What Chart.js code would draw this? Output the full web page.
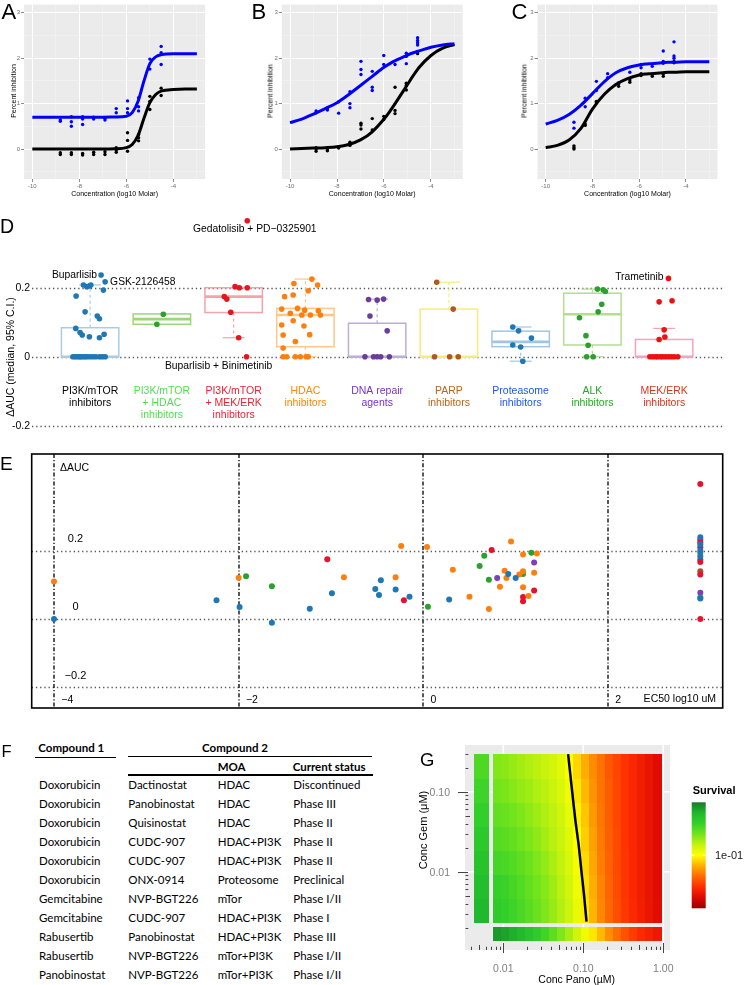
<!DOCTYPE html>
<html>
<head>
<meta charset="utf-8">
<title>Combination screen figure</title>
<script src="https://cdn.jsdelivr.net/npm/chart.js@4.4.1/dist/chart.umd.min.js"></script>
<style>
  body { margin: 0; background: #fff; }
  #page { position: relative; width: 750px; height: 985px; overflow: hidden; background: #fff;
          font-family: "Liberation Sans", Arial, sans-serif; color: #000; }
  #page canvas { position: absolute; }
  .txt { position: absolute; white-space: nowrap; line-height: 1; }
  .rot { transform: translate(-50%, -50%) rotate(-90deg); }
  .ctr { transform: translate(-50%, -50%); }
  .tbl { font-family: Lato, "Open Sans", sans-serif; line-height: 14px; }
  .b { font-weight: bold; }
  .rule { position: absolute; height: 1.3px; background: #000; }
</style>
</head>
<body>
<div id="page">
  <canvas id="cA" width="250" height="200" style="left:0;top:0"></canvas>
  <canvas id="cB" width="250" height="200" style="left:250px;top:0"></canvas>
  <canvas id="cC" width="250" height="200" style="left:500px;top:0"></canvas>
  <canvas id="cD" width="750" height="250" style="left:0;top:200px"></canvas>
  <canvas id="cE" width="750" height="262" style="left:0;top:450px"></canvas>
  <canvas id="cG" width="350" height="265" style="left:400px;top:720px"></canvas>
</div>
<script>
  // ---------- A / B / C : dose-response ----------
  var fitX = [-10, -9.5, -9, -8.5, -8, -7.5, -7, -6.5, -6, -5.75, -5.5, -5.25, -5, -4.75, -4.5, -4, -3.5, -3];
  var doseXTicks = [-10, -9, -8, -7, -6, -5, -4, -3];
  var doseYTicks = [-0.5, 0, 0.5, 1, 1.5, 2, 2.5, 3];

  var aBlueFit = [0.7, 0.7, 0.7, 0.7, 0.7, 0.7, 0.7, 0.705, 0.72, 0.8, 1.05, 1.5, 1.88, 2.03, 2.08, 2.1, 2.1, 2.1];
  var aBlackFit = [0, 0, 0, 0, 0, 0, 0, 0.005, 0.03, 0.1, 0.3, 0.68, 1.02, 1.2, 1.28, 1.31, 1.32, 1.32];
  var aBlueX = [-8.81, -8.81, -8.34, -8.34, -8.34, -7.86, -7.86, -7.86, -7.39, -7.39, -6.91, -6.91, -6.43, -6.43,
                -5.95, -5.95, -5.95, -5.48, -5.48, -5.48, -5.0, -5.0, -4.52, -4.52, -4.52];
  var aBlueY = [0.64, 0.61, 0.71, 0.6, 0.5, 0.71, 0.66, 0.54, 0.7, 0.66, 0.68, 0.64, 0.89, 0.8,
                1.06, 0.89, 0.8, 1.13, 0.93, 0.84, 1.98, 1.76, 2.26, 2.12, 1.86];
  var aBlackX = [-8.81, -8.81, -8.34, -8.34, -7.86, -7.86, -7.39, -7.39, -6.91, -6.91, -6.43, -6.43, -6.43,
                 -5.95, -5.95, -5.95, -5.48, -5.48, -5.48, -5.0, -5.0, -5.0, -4.52, -4.52];
  var aBlackY = [-0.08, -0.12, -0.08, -0.12, -0.1, -0.13, -0.07, -0.12, -0.06, -0.12, 0.03, -0.02, -0.07,
                 0.36, 0.19, -0.05, 0.32, 0.25, 0.18, 1.16, 1.05, 0.87, 1.34, 1.18];

  var bBlueFit = [0.58, 0.66, 0.77, 0.89, 1.02, 1.2, 1.4, 1.6, 1.8, 1.88, 1.95, 2.01, 2.07, 2.12, 2.16, 2.24, 2.29, 2.32];
  var bBlackFit = [0, 0.01, 0.02, 0.03, 0.05, 0.1, 0.2, 0.38, 0.66, 0.83, 1.02, 1.22, 1.42, 1.62, 1.8, 2.06, 2.22, 2.3];
  var bBlueX = [-8.89, -8.89, -8.41, -8.41, -7.93, -7.93, -7.45, -7.45, -7.45, -6.98, -6.98, -6.98, -6.5, -6.5, -6.5,
                -6.01, -6.01, -5.53, -5.05, -5.05, -5.05, -4.57, -4.57, -4.57, -4.57];
  var bBlueY = [0.84, 0.8, 0.88, 0.86, 1.04, 0.79, 1.26, 1.0, 0.91, 1.93, 1.75, 1.64, 1.71, 1.36, 1.29,
                2.06, 1.86, 1.86, 2.11, 2.04, 1.88, 2.45, 2.39, 2.34, 2.29];
  var bBlackX = [-8.89, -8.89, -8.89, -8.41, -8.41, -7.93, -7.93, -7.45, -7.45, -7.45, -6.98, -6.98, -6.98, -6.5, -6.5,
                 -6.01, -6.01, -5.53, -5.53, -5.53, -5.05, -5.05, -5.05, -4.57, -4.57];
  var bBlackY = [0.03, 0, -0.05, -0.02, -0.04, 0.05, 0.02, 0.15, 0.1, 0.08, 0.57, 0.53, 0.44, 0.67, 0.42,
                 0.72, 0.65, 1.36, 0.85, 0.78, 1.45, 1.4, 1.3, 2.15, 2.1];

  var cBlueFit = [0.55, 0.63, 0.76, 0.96, 1.22, 1.48, 1.68, 1.79, 1.85, 1.87, 1.88, 1.89, 1.9, 1.91, 1.91, 1.92, 1.92, 1.92];
  var cBlackFit = [0.03, 0.08, 0.2, 0.45, 0.88, 1.2, 1.42, 1.55, 1.63, 1.65, 1.66, 1.67, 1.68, 1.69, 1.69, 1.7, 1.7, 1.7];
  var cBlueX = [-8.79, -8.79, -8.31, -8.31, -7.83, -7.83, -7.35, -7.35, -6.88, -6.4, -5.92, -5.92, -5.44,
                -4.97, -4.97, -4.97, -4.51, -4.51, -4.51];
  var cBlueY = [0.59, 0.46, 1.12, 0.93, 1.49, 1.29, 1.66, 1.57, 1.46, 1.69, 1.86, 1.79, 1.82,
                2.16, 1.93, 1.89, 2.36, 2.05, 2.0];
  var cBlackX = [-8.79, -8.79, -8.79, -8.31, -8.31, -7.83, -7.83, -6.88, -6.88, -6.4, -6.4, -5.92, -5.92,
                 -5.44, -5.44, -4.97, -4.97, -4.51, -4.51];
  var cBlackY = [0.07, 0.03, 0.0, 0.55, 0.52, 1.05, 1.02, 1.43, 1.38, 1.52, 1.47, 1.66, 1.62,
                 1.64, 1.6, 1.65, 1.6, 1.93, 1.9];

  // ---------- D : delta AUC by drug class ----------
  var dLabelLines = [['PI3K/mTOR', 'inhibitors'], ['PI3K/mTOR', '+ HDAC', 'inhibitors'], ['PI3K/mTOR', '+ MEK/ERK', 'inhibitors'],
                     ['HDAC', 'inhibitors'], ['DNA repair', 'agents'], ['PARP', 'inhibitors'], ['Proteasome', 'inhibitors'],
                     ['ALK', 'inhibitors'], ['MEK/ERK', 'inhibitors']];
  var dQ1 = [0, 0.094, 0.128, 0.029, 0, 0, 0.029, 0.034, 0];
  var dMed = [0, 0.109, 0.174, 0.121, 0, 0, 0.043, 0.123, 0];
  var dQ3 = [0.084, 0.124, 0.2, 0.14, 0.097, 0.138, 0.074, 0.184, 0.05];
  var dLo = [0, 0.094, 0.055, 0, 0, 0, -0.013, 0, 0];
  var dHi = [0.208, 0.124, 0.2, 0.225, 0.167, 0.216, 0.086, 0.196, 0.082];
  var dValues = [
    [0.237, 0.217, 0.208, 0.203, 0.205, 0.208, 0.193, 0.176, 0.13, 0.118, 0.11, 0.082, 0.07, 0.063, 0.058, 0.055, 0.065,
     0, 0, 0, 0, 0, 0, 0, 0, 0, 0, 0, 0, 0, 0],
    [0.123, 0.094],
    [0.394, 0.203, 0.2, 0.2, 0.174, 0.167, 0.129, 0.055, 0],
    [0.225, 0.212, 0.208, 0.191, 0.179, 0.174, 0.138, 0.14, 0.135, 0.126, 0.121, 0.121, 0.133, 0.121, 0.104, 0.092,
     0.089, 0.063, 0.064, 0.044, 0.025, 0, 0, 0, 0, 0, 0],
    [0.166, 0.167, 0.164, 0.118, 0.075, 0, 0, 0, 0, 0],
    [0.216, 0.138, 0, 0, 0],
    [0.086, 0.075, 0.054, 0.034, 0.028, -0.013],
    [0.196, 0.194, 0.189, 0.152, 0.13, 0.113, 0.061, 0.033, 0, 0],
    [0.227, 0.159, 0.162, 0.078, 0.057, 0.05, 0, 0, 0, 0, 0, 0, 0, 0, 0, 0, 0]
  ];
  // horizontal jitter of each point (in category units)
  var dJitter = [
    [0.153, 0.209, -0.093, -0.046, -0.01, 0.01, 0.185, -0.195, -0.07, 0.1, 0.13, -0.2, -0.14, -0.11, -0.01, 0.13, 0.195,
     -0.24, -0.21, -0.18, -0.15, -0.13, -0.1, -0.07, -0.04, 0, 0.04, 0.08, 0.13, 0.17, 0.21],
    [0.02, -0.07],
    [0.19, 0.02, 0.08, 0.19, -0.13, -0.095, -0.04, 0.07, 0.18],
    [0.09, -0.16, 0.17, 0.04, -0.17, -0.29, -0.33, -0.11, -0.01, -0.21, -0.05, 0.07, 0.18, 0.21, -0.17, -0.33,
     -0.02, -0.31, 0.06, -0.14, -0.31, -0.31, -0.26, -0.14, -0.07, 0.01, 0.04],
    [-0.12, 0.09, 0, -0.1, 0.14, -0.17, -0.05, 0, 0.05, 0.17],
    [-0.17, 0.06, -0.2, 0.01, 0.13],
    [-0.11, -0.03, 0.15, -0.11, 0, 0.03],
    [0.07, 0.15, 0.18, 0.13, 0.08, -0.18, -0.09, -0.06, -0.08, 0.01],
    [0.06, -0.07, 0.11, 0, 0.01, -0.07, -0.2, -0.16, -0.12, -0.09, -0.05, -0.02, 0.02, 0.06, 0.1, 0.14, 0.19]
  ];
  var dRefLines = [0.2, 0, -0.2];
  var dNotes = [
    { cat: 0, idx: 0, text: 'Buparlisib' },
    { cat: 0, idx: 1, text: 'GSK-2126458' },
    { cat: 2, idx: 0, text: 'Gedatolisib + PD\u22120325901' },
    { cat: 2, idx: 8, text: 'Buparlisib + Binimetinib' },
    { cat: 8, idx: 0, text: 'Trametinib' }
  ];

  // ---------- E : delta AUC vs EC50 ----------
  var eBlueX = [-4.0, -2.24, -1.99, -1.64, -1.23, -0.99, -0.52, -0.46, -0.48, -0.3, -0.15, 0.28, 0.92, 1.0, 3.0, 3.0, 3.0, 3.0, 3.0];
  var eBlueY = [0.0, 0.055, 0.035, -0.011, 0.03, 0.075, 0.088, 0.113, 0.07, 0.086, 0.065, 0.057, 0.132, 0.12, 0.239, 0.219, 0.2, 0.184, 0.06];
  var eOrangeX = [-4.0, -2.0, -0.86, -0.3, -0.24, 0.04, 0.32, 0.5, 0.71, 0.83, 0.88, 0.9, 0.95, 1.04, 1.08, 1.08, 1.08, 1.14, 1.23, 1.2];
  var eOrangeY = [0.11, 0.121, 0.122, 0.122, 0.214, 0.211, 0.144, 0.065, 0.029, 0.094, 0.141, 0.12, 0.227, 0.13, 0.14, 0.189, 0.093, 0.067, 0.192, 0.135];
  var eGreenX = [-1.92, -1.64, 0.05, 0.61, 0.66, 0.71, 1.08, 1.17, 3.0, 3.0];
  var eGreenY = [0.125, 0.096, 0.036, 0.155, 0.185, 0.115, 0.132, 0.194, 0.193, 0.063];
  var eRedX = [-1.04, -0.21, 0.74, 1.08, 1.08, 1.2, 3.0, 3.0, 3.0, 3.0, 3.0, 3.0, 3.0];
  var eRedY = [0.175, 0.055, 0.202, 0.064, 0.052, 0.083, 0.395, 0.232, 0.225, 0.21, 0.167, 0.13, 0];
  var ePurpleX = [0.8, 1.2, 3.0, 3.0];
  var ePurpleY = [0.12, 0.165, 0.174, 0.077];
  var eBrownX = [3.0];
  var eBrownY = [0.14];
  var eRefX = [-4, -2, 0, 2];
  var eRefY = [0.2, 0, -0.2];

  // ---------- F : table ----------
  var fCompound1 = ['Doxorubicin', 'Doxorubicin', 'Doxorubicin', 'Doxorubicin', 'Doxorubicin', 'Doxorubicin',
                    'Gemcitabine', 'Gemcitabine', 'Rabusertib', 'Rabusertib', 'Panobinostat'];
  var fCompound2 = ['Dactinostat', 'Panobinostat', 'Quisinostat', 'CUDC-907', 'CUDC-907', 'ONX-0914',
                    'NVP-BGT226', 'CUDC-907', 'Panobinostat', 'NVP-BGT226', 'NVP-BGT226'];
  var fMoa = ['HDAC', 'HDAC', 'HDAC', 'HDAC+PI3K', 'HDAC+PI3K', 'Proteosome', 'mTor', 'HDAC+PI3K', 'HDAC+PI3K',
              'mTor+PI3K', 'mTor+PI3K'];
  var fStatus = ['Discontinued', 'Phase III', 'Phase II', 'Phase II', 'Phase II', 'Preclinical', 'Phase I/II',
                 'Phase I', 'Phase III', 'Phase I/II', 'Phase I/II'];

  // ---------- G : survival surface (log10 survival) ----------
  var panoLog = [-2.07, -1.97, -1.87, -1.77, -1.67, -1.57, -1.47, -1.37, -1.27, -1.17, -1.07,
                 -0.97, -0.87, -0.77, -0.67, -0.57, -0.47, -0.37, -0.27, -0.17, -0.07];
  var gemLog = [-2.48, -2.18, -1.88, -1.58, -1.28, -0.98, -0.68];
  var survivalGrid = [
    [-0.36, -0.39, -0.43, -0.47, -0.52, -0.57, -0.63, -0.69, -0.76, -0.83, -0.93, -1.05, -1.18, -1.31, -1.41, -1.49, -1.56, -1.62, -1.67, -1.72, -1.77],
    [-0.4, -0.42, -0.46, -0.5, -0.55, -0.6, -0.65, -0.71, -0.78, -0.85, -0.95, -1.07, -1.2, -1.32, -1.42, -1.5, -1.57, -1.63, -1.68, -1.73, -1.78],
    [-0.45, -0.47, -0.5, -0.54, -0.58, -0.63, -0.68, -0.74, -0.8, -0.87, -0.97, -1.09, -1.22, -1.34, -1.43, -1.51, -1.57, -1.63, -1.68, -1.73, -1.78],
    [-0.5, -0.52, -0.55, -0.59, -0.63, -0.67, -0.72, -0.77, -0.82, -0.89, -1.0, -1.12, -1.24, -1.35, -1.44, -1.51, -1.58, -1.63, -1.68, -1.73, -1.78],
    [-0.55, -0.57, -0.6, -0.63, -0.67, -0.71, -0.75, -0.79, -0.84, -0.92, -1.03, -1.14, -1.26, -1.36, -1.45, -1.52, -1.58, -1.63, -1.68, -1.73, -1.78],
    [-0.6, -0.62, -0.65, -0.68, -0.71, -0.75, -0.78, -0.82, -0.87, -0.95, -1.06, -1.17, -1.28, -1.37, -1.45, -1.52, -1.58, -1.63, -1.68, -1.73, -1.78],
    [-0.64, -0.66, -0.69, -0.72, -0.75, -0.78, -0.81, -0.85, -0.9, -0.99, -1.1, -1.2, -1.3, -1.38, -1.46, -1.52, -1.58, -1.63, -1.68, -1.73, -1.78]
  ];
  var panoAlone = [-0.1, -0.13, -0.17, -0.22, -0.28, -0.36, -0.44, -0.53, -0.63, -0.73, -0.84,
                   -0.95, -1.06, -1.17, -1.29, -1.39, -1.48, -1.55, -1.61, -1.66, -1.71];
  var gemAlone = [-0.2, -0.24, -0.28, -0.33, -0.38, -0.43, -0.48];
  var contourPano = [-1.19, -1.15, -1.1, -1.06, -1.025, -0.99, -0.96];
  var contourGem = [-0.53, -0.9, -1.35, -1.65, -1.98, -2.3, -2.625];
  var gXTicks = [-2, -1, 0];
  var gXTickLabels = ['0.01', '0.10', '1.00'];
  var gYTicks = [-1, -2];
  var gYTickLabels = ['0.10', '0.01'];
  var survivalStops = [[0, '#9a0000'], [0.1, '#dc0800'], [0.2, '#ff2c00'], [0.3, '#ff6a00'], [0.4, '#ffad00'],
                       [0.5, '#ffff00'], [0.6, '#c4f20e'], [0.7, '#72e41c'], [0.8, '#34d02a'], [0.9, '#20b82c'], [1, '#187a28']];

  // ================= drawing =================
  var FONT = '"Liberation Sans", Arial, sans-serif';
  Chart.defaults.font.family = FONT;
  Chart.defaults.color = '#000';

  function pairs(xs, ys) {
    return xs.map(function (x, i) { return { x: x, y: ys[i] }; });
  }
  function baseOptions(pad) {
    return {
      responsive: false, animation: false, devicePixelRatio: 1,
      layout: { padding: pad },
      plugins: { legend: { display: false }, tooltip: { enabled: false } }
    };
  }
  function hline(ctx, x0, x1, y) { ctx.beginPath(); ctx.moveTo(x0, y); ctx.lineTo(x1, y); ctx.stroke(); }
  function vline(ctx, x, y0, y1) { ctx.beginPath(); ctx.moveTo(x, y0); ctx.lineTo(x, y1); ctx.stroke(); }

  var greyPanel = {
    id: 'greyPanel',
    beforeDraw: function (chart) {
      var a = chart.chartArea, ctx = chart.ctx;
      ctx.save();
      ctx.fillStyle = '#ebebeb';
      ctx.fillRect(a.left, a.top, a.right - a.left, a.bottom - a.top);
      ctx.restore();
    }
  };

  function doseChart(id, blueFit, blackFit, blueX, blueY, blackX, blackY, yAxisW, rightPad) {
    var opts = baseOptions({ left: 0, top: 0, right: rightPad, bottom: 0 });
    function xMajor(c) { return c.tick && c.tick.value % 2 === 0; }
    function yMajor(c) { return c.tick && Number.isInteger(c.tick.value); }
    opts.scales = {
      x: {
        type: 'linear', min: -10.35, max: -2.65,
        afterBuildTicks: function (s) { s.ticks = doseXTicks.map(function (v) { return { value: v }; }); },
        afterFit: function (s) { s.height = 21; },
        ticks: { autoSkip: false, maxRotation: 0, padding: 1, color: '#6e6e6e', font: { size: 6 },
                 callback: function (v) { return v % 2 === 0 ? String(v) : ''; } },
        grid: { color: function (c) { return xMajor(c) ? '#ffffff' : '#f5f5f5'; },
                lineWidth: function (c) { return xMajor(c) ? 1 : 0.6; },
                tickColor: function (c) { return xMajor(c) ? '#8a8a8a' : 'rgba(0,0,0,0)'; },
                tickLength: 3 },
        border: { display: false }
      },
      y: {
        type: 'linear', min: -0.66, max: 3.18,
        afterBuildTicks: function (s) { s.ticks = doseYTicks.map(function (v) { return { value: v }; }); },
        afterFit: function (s) { s.width = yAxisW; },
        ticks: { autoSkip: false, padding: 1, color: '#6e6e6e', font: { size: 6 },
                 callback: function (v) { return Number.isInteger(v) ? String(v) : ''; } },
        grid: { color: function (c) { return yMajor(c) ? '#ffffff' : '#f5f5f5'; },
                lineWidth: function (c) { return yMajor(c) ? 1 : 0.6; },
                tickColor: function (c) { return yMajor(c) ? '#8a8a8a' : 'rgba(0,0,0,0)'; },
                tickLength: 3 },
        border: { display: false }
      }
    };
    return new Chart(document.getElementById(id), {
      type: 'scatter',
      data: {
        datasets: [
          { data: pairs(fitX, blueFit), showLine: true, borderColor: '#0000ff', borderWidth: 3, pointRadius: 0,
            cubicInterpolationMode: 'monotone' },
          { data: pairs(fitX, blackFit), showLine: true, borderColor: '#000000', borderWidth: 3, pointRadius: 0,
            cubicInterpolationMode: 'monotone' },
          { data: pairs(blueX, blueY), backgroundColor: '#0000ff', borderColor: '#0000ff', pointRadius: 1.7, pointBorderWidth: 0 },
          { data: pairs(blackX, blackY), backgroundColor: '#000000', borderColor: '#000000', pointRadius: 1.7, pointBorderWidth: 0 }
        ]
      },
      options: opts,
      plugins: [greyPanel]
    });
  }

  doseChart('cA', aBlueFit, aBlackFit, aBlueX, aBlueY, aBlackX, aBlackY, 24.1, 44.9);
  doseChart('cB', bBlueFit, bBlackFit, bBlueX, bBlueY, bBlackX, bBlackY, 31.8, 37.3);
  doseChart('cC', cBlueFit, cBlackFit, cBlueX, cBlueY, cBlackX, cBlackY, 37.5, 32.5);

  // ---- D ----
  var dPointColors = ['#1f77b4', '#2ca02c', '#e8141e', '#ff7f0e', '#6a3d9a', '#b0581f', '#1f77b4', '#2ca02c', '#ee1111'];
  var dBoxColors = ['#a9cce3', '#9ed47a', '#f5a3ab', '#ffc68a', '#bcaed6', '#f3ee78', '#9fc6e6', '#b5dd90', '#f7a2b8'];
  var dTextColors = ['#000000', '#55dd55', '#ee2233', '#ff8800', '#7733cc', '#b5651d', '#2255ee', '#22aa22', '#dd3322'];
  var dNoteLayout = [
    { align: 'right', dx: -4, dy: 0 },
    { align: 'left', dx: 5, dy: 0 },
    { align: 'center', dx: 7.5, dy: 8.7 },
    { align: 'center', dx: -28, dy: 9.5 },
    { align: 'right', dx: -5, dy: -1 }
  ];

  var dPlugin = {
    id: 'dBoxes',
    beforeDatasetsDraw: function (chart) {
      var ctx = chart.ctx, xs = chart.scales.x, ys = chart.scales.y, a = chart.chartArea;
      ctx.save();
      ctx.strokeStyle = '#555';
      ctx.lineWidth = 1.3;
      ctx.setLineDash([1.3, 2.9]);
      dRefLines.forEach(function (v) { hline(ctx, a.left, a.right, Math.round(ys.getPixelForValue(v)) + 0.5); });
      for (var c = 0; c < dLabelLines.length; c++) {
        var xc = xs.getPixelForValue(c + 1);
        var half = xs.getPixelForValue(c + 1.4) - xc;
        var cap = half * 0.38;
        var yq1 = ys.getPixelForValue(dQ1[c]), yq3 = ys.getPixelForValue(dQ3[c]);
        var ymed = ys.getPixelForValue(dMed[c]);
        var ylo = ys.getPixelForValue(dLo[c]), yhi = ys.getPixelForValue(dHi[c]);
        ctx.strokeStyle = dBoxColors[c];
        ctx.setLineDash([3, 3]);
        ctx.lineWidth = 1.2;
        if (dHi[c] > dQ3[c]) vline(ctx, xc, yq3, yhi);
        if (dLo[c] < dQ1[c]) vline(ctx, xc, yq1, ylo);
        ctx.setLineDash([]);
        if (dHi[c] > dQ3[c]) hline(ctx, xc - cap, xc + cap, yhi);
        if (dLo[c] < dQ1[c]) hline(ctx, xc - cap, xc + cap, ylo);
        ctx.lineWidth = 1.5;
        ctx.strokeRect(xc - half, yq3, 2 * half, yq1 - yq3);
        ctx.lineWidth = 2.6;
        hline(ctx, xc - half, xc + half, ymed);
      }
      ctx.restore();
    },
    afterDatasetsDraw: function (chart) {
      var ctx = chart.ctx, xs = chart.scales.x, ys = chart.scales.y;
      ctx.save();
      ctx.textBaseline = 'middle';
      ctx.font = '10.3px ' + FONT;
      ctx.fillStyle = '#000';
      dNotes.forEach(function (n, i) {
        var lay = dNoteLayout[i];
        var px = xs.getPixelForValue(n.cat + 1 + dJitter[n.cat][n.idx]);
        var py = ys.getPixelForValue(dValues[n.cat][n.idx]);
        ctx.textAlign = lay.align;
        ctx.fillText(n.text, px + lay.dx, py + lay.dy);
      });
      ctx.font = '10.5px ' + FONT;
      ctx.textAlign = 'center';
      var y0 = ys.getPixelForValue(0);
      dLabelLines.forEach(function (lines, c) {
        ctx.fillStyle = dTextColors[c];
        lines.forEach(function (t, k) { ctx.fillText(t, xs.getPixelForValue(c + 1), y0 + 34 + k * 12.2); });
      });
      ctx.restore();
    }
  };

  var dOpts = baseOptions({ left: 0, top: 12, right: 27, bottom: 10 });
  dOpts.scales = {
    x: { type: 'linear', display: false, min: 0.19, max: 9.82 },
    y: {
      type: 'linear', min: -0.2414, max: 0.4194,
      afterBuildTicks: function (s) { s.ticks = dRefLines.map(function (v) { return { value: v }; }); },
      afterFit: function (s) { s.width = 32; },
      ticks: { padding: 2, color: '#000', font: { size: 10.5 },
               callback: function (v) { return v === 0 ? '0' : String(v); } },
      grid: { display: false, drawTicks: false },
      border: { display: false }
    }
  };
  new Chart(document.getElementById('cD'), {
    type: 'scatter',
    data: {
      datasets: dValues.map(function (vals, c) {
        return {
          data: vals.map(function (v, k) { return { x: c + 1 + dJitter[c][k], y: v }; }),
          backgroundColor: dPointColors[c], borderColor: dPointColors[c], pointRadius: 2.8, pointBorderWidth: 0
        };
      })
    },
    options: dOpts,
    plugins: [dPlugin]
  });

  // ---- E ----
  var ePlugin = {
    id: 'eFrame',
    beforeDatasetsDraw: function (chart) {
      var ctx = chart.ctx, xs = chart.scales.x, ys = chart.scales.y, a = chart.chartArea;
      ctx.save();
      ctx.strokeStyle = '#555';
      ctx.lineWidth = 1.3;
      ctx.setLineDash([1.3, 2.9]);
      eRefY.forEach(function (v) { hline(ctx, a.left, a.right, Math.round(ys.getPixelForValue(v)) + 0.5); });
      ctx.strokeStyle = '#111';
      ctx.lineWidth = 1.4;
      ctx.setLineDash([4, 2, 1.2, 2]);
      eRefX.forEach(function (v) { vline(ctx, Math.round(xs.getPixelForValue(v)), a.top, a.bottom); });
      ctx.restore();
    },
    afterDraw: function (chart) {
      var ctx = chart.ctx, xs = chart.scales.x, ys = chart.scales.y, a = chart.chartArea;
      ctx.save();
      ctx.strokeStyle = '#000';
      ctx.lineWidth = 1.6;
      ctx.strokeRect(a.left, a.top, a.right - a.left, a.bottom - a.top);
      ctx.fillStyle = '#000';
      ctx.textBaseline = 'middle';
      ctx.font = '10.5px ' + FONT;
      var x4 = xs.getPixelForValue(-4);
      ctx.textAlign = 'left';
      ctx.fillText('\u0394AUC', x4 + 6, a.top + 14.4);
      ctx.font = '11px ' + FONT;
      ctx.textAlign = 'center';
      eRefY.forEach(function (v) {
        var t = v === 0 ? '0' : String(v).replace('-', '\u2212');
        ctx.fillText(t, x4 + 21.5, ys.getPixelForValue(v) - 11.5);
      });
      ctx.font = '10.5px ' + FONT;
      ctx.textAlign = 'left';
      eRefX.forEach(function (v) {
        ctx.fillText(String(v).replace('-', '\u2212'), xs.getPixelForValue(v) + 7.3, a.bottom - 8.3);
      });
      ctx.textAlign = 'right';
      ctx.fillText('EC50 log10 uM', a.right - 6.7, a.bottom - 9);
      ctx.restore();
    }
  };
  var eOpts = baseOptions({ left: 31.7, top: 2.3, right: 27.3, bottom: 3 });
  eOpts.scales = {
    x: { type: 'linear', display: false, min: -4.2415, max: 3.2425 },
    y: { type: 'linear', display: false, min: -0.2609, max: 0.4832 }
  };
  function eSet(xs, ys, col) {
    return { data: pairs(xs, ys), backgroundColor: col, borderColor: col, pointRadius: 3, pointBorderWidth: 0 };
  }
  new Chart(document.getElementById('cE'), {
    type: 'scatter',
    data: {
      datasets: [
        eSet(eBlueX, eBlueY, '#1f77b4'),
        eSet(eOrangeX, eOrangeY, '#ff7f0e'),
        eSet(eGreenX, eGreenY, '#2ca02c'),
        eSet(eRedX, eRedY, '#e8112d'),
        eSet(ePurpleX, ePurpleY, '#7d3fbf'),
        eSet(eBrownX, eBrownY, '#a0522d')
      ]
    },
    options: eOpts,
    plugins: [ePlugin]
  });

  // ---- G ----
  function hexRgb(h) { return [parseInt(h.slice(1, 3), 16), parseInt(h.slice(3, 5), 16), parseInt(h.slice(5, 7), 16)]; }
  function survColor(logS) {
    var t = Math.max(0, Math.min(1, (logS + 2) / 2));
    for (var i = 1; i < survivalStops.length; i++) {
      if (t <= survivalStops[i][0]) {
        var s0 = survivalStops[i - 1], s1 = survivalStops[i];
        var f = (t - s0[0]) / (s1[0] - s0[0]);
        var c0 = hexRgb(s0[1]), c1 = hexRgb(s1[1]);
        return 'rgb(' + c0.map(function (v, k) { return Math.round(v + (c1[k] - v) * f); }).join(',') + ')';
      }
    }
    return survivalStops[survivalStops.length - 1][1];
  }
  function logTickList(min, max) {
    var out = [];
    for (var n = -4; n <= 1; n++) {
      for (var k = 1; k <= 9; k++) {
        var v = n + Math.log10(k);
        if (v >= min && v <= max) out.push({ v: v, k: k });
      }
    }
    return out;
  }
  var gStripX = [-2.354, -2.188];   // x extent of the Gem-only strip
  var gStripY = [-2.866, -2.695];   // y extent of the Pano-only strip
  var gLegend = { x: 291.7, y: 82.3, w: 14, h: 106 };

  var gPlugin = {
    id: 'gHeat',
    beforeDatasetsDraw: function (chart) {
      var ctx = chart.ctx, a = chart.chartArea, xs = chart.scales.x, ys = chart.scales.y;
      ctx.save();
      ctx.fillStyle = '#ebebeb';
      ctx.fillRect(a.left, a.top, a.right - a.left, a.bottom - a.top);
      ctx.strokeStyle = '#ffffff';
      ctx.lineWidth = 1.6;
      gXTicks.forEach(function (v) { vline(ctx, xs.getPixelForValue(v), a.top, a.bottom); });
      gYTicks.forEach(function (v) { hline(ctx, a.left, a.right, ys.getPixelForValue(v)); });
      function cell(x0v, x1v, y0v, y1v, v) {
        var x0 = Math.floor(xs.getPixelForValue(x0v)), x1 = Math.ceil(xs.getPixelForValue(x1v));
        var y0 = Math.floor(ys.getPixelForValue(y1v)), y1 = Math.ceil(ys.getPixelForValue(y0v));
        ctx.fillStyle = survColor(v);
        ctx.fillRect(x0, y0, x1 - x0, y1 - y0);
      }
      var hw = (panoLog[1] - panoLog[0]) / 2, hh = (gemLog[1] - gemLog[0]) / 2;
      gemLog.forEach(function (g, r) {
        panoLog.forEach(function (p, c) { cell(p - hw, p + hw, g - hh, g + hh, survivalGrid[r][c]); });
        cell(gStripX[0], gStripX[1], g - hh, g + hh, gemAlone[r]);
      });
      panoLog.forEach(function (p, c) { cell(p - hw, p + hw, gStripY[0], gStripY[1], panoAlone[c]); });
      // log ticks
      ctx.strokeStyle = '#444';
      ctx.lineWidth = 1;
      logTickList(ys.min, ys.max).forEach(function (t) {
        var y = Math.round(ys.getPixelForValue(t.v)) + 0.5;
        if (t.k === 1) hline(ctx, a.left - 7, a.left + 3, y);
        else hline(ctx, a.left + 0.5, a.left + (t.k === 5 ? 5 : 3.3), y);
      });
      logTickList(xs.min, xs.max).forEach(function (t) {
        var x = Math.round(xs.getPixelForValue(t.v)) + 0.5;
        if (t.k === 1) vline(ctx, x, a.bottom - 7, a.bottom + 3);
        else vline(ctx, x, a.bottom - (t.k === 5 ? 5 : 3.3), a.bottom);
      });
      ctx.restore();
    },
    afterDraw: function (chart) {
      var ctx = chart.ctx, a = chart.chartArea, xs = chart.scales.x, ys = chart.scales.y;
      ctx.save();
      ctx.font = '10.5px ' + FONT;
      ctx.fillStyle = '#7f7f7f';
      ctx.textBaseline = 'middle';
      ctx.textAlign = 'right';
      gYTicks.forEach(function (v, i) { ctx.fillText(gYTickLabels[i], a.left - 15, ys.getPixelForValue(v) + 1); });
      ctx.textAlign = 'center';
      gXTicks.forEach(function (v, i) { ctx.fillText(gXTickLabels[i], xs.getPixelForValue(v), a.bottom + 19); });
      // legend colour bar
      var L = gLegend;
      var grad = ctx.createLinearGradient(0, L.y, 0, L.y + L.h);
      survivalStops.forEach(function (s) { grad.addColorStop(1 - s[0], s[1]); });
      ctx.fillStyle = grad;
      ctx.fillRect(L.x, L.y, L.w, L.h);
      ctx.strokeStyle = '#fff';
      ctx.lineWidth = 1.2;
      var ym = L.y + L.h / 2;
      hline(ctx, L.x, L.x + 3, ym);
      hline(ctx, L.x + L.w - 3, L.x + L.w, ym);
      ctx.fillStyle = '#000';
      ctx.textAlign = 'left';
      ctx.font = 'bold 11px ' + FONT;
      ctx.fillText('Survival', L.x + 1, L.y - 11.6);
      ctx.font = '11px ' + FONT;
      ctx.fillStyle = '#1a1a1a';
      ctx.fillText('1e-01', L.x + 23.3, ym + 1);
      ctx.restore();
    }
  };
  var gOpts = baseOptions({ left: 65, top: 25, right: 80, bottom: 35 });
  gOpts.scales = {
    x: { type: 'linear', display: false, min: -2.479, max: 0.084 },
    y: { type: 'linear', display: false, min: -2.979, max: -0.416 }
  };
  new Chart(document.getElementById('cG'), {
    type: 'scatter',
    data: {
      datasets: [{ data: pairs(contourPano, contourGem), showLine: true, borderColor: '#000', borderWidth: 2.5,
                   pointRadius: 0, tension: 0.3 }]
    },
    options: gOpts,
    plugins: [gPlugin]
  });

  // ---------- text overlays ----------
  var page = document.getElementById('page');
  function put(text, x, y, size, cls) {
    var d = document.createElement('div');
    d.className = 'txt ' + (cls || '');
    d.textContent = text;
    d.style.left = x + 'px';
    d.style.top = y + 'px';
    d.style.fontSize = size + 'px';
    page.appendChild(d);
    return d;
  }
  function letter(t, x, baseline, size) { put(t, x, baseline - 0.8465 * size, size); }
  function rule(x0, x1, y) {
    var d = document.createElement('div');
    d.className = 'rule';
    d.style.left = x0 + 'px';
    d.style.width = (x1 - x0) + 'px';
    d.style.top = y + 'px';
    page.appendChild(d);
  }

  letter('A', 1.5, 20, 22);
  letter('B', 251.5, 20, 22);
  letter('C', 511.5, 20, 22);
  letter('D', 0, 233.3, 19.5);
  letter('E', 0, 470, 19);
  letter('F', 1.5, 756.7, 16.5);
  letter('G', 420, 766.7, 18.5);

  [12.7, 270, 524.3].forEach(function (x) { put('Percent inhibition', x, 90.8, 7, 'rot'); });
  [114.6, 372.2, 627.5].forEach(function (x) { put('Concentration (log10 Molar)', x, 193, 7, 'ctr'); });
  put('\u0394AUC (median, 95% C.I.)', 10, 356.7, 10.5, 'rot');
  put('Conc Gem (\u03bcM)', 423, 830, 11, 'rot');
  put('Conc Pano (\u00b5M)', 576.7, 979, 10.5, 'ctr');

  // table F
  var fColX = [39, 128.3, 217.7, 293.3];
  put('Compound 1', 38.3, 748.3 - 7, 11.5, 'tbl b');
  put('Compound 2', 235, 748 - 7, 11.5, 'tbl b').style.transform = 'translateX(-50%)';
  put('MOA', 217.7, 766.7 - 7, 11.5, 'tbl b');
  put('Current status', 292.7, 766.7 - 7, 11.5, 'tbl b');
  rule(35, 115.7, 756.7);
  rule(127.7, 372.3, 756.2);
  rule(127.7, 373, 774.4);
  fCompound1.forEach(function (c1, i) {
    var y = 785 + i * 19 - 7;
    [c1, fCompound2[i], fMoa[i], fStatus[i]].forEach(function (t, j) { put(t, fColX[j], y, 11.5, 'tbl'); });
  });
</script>
</body>
</html>
